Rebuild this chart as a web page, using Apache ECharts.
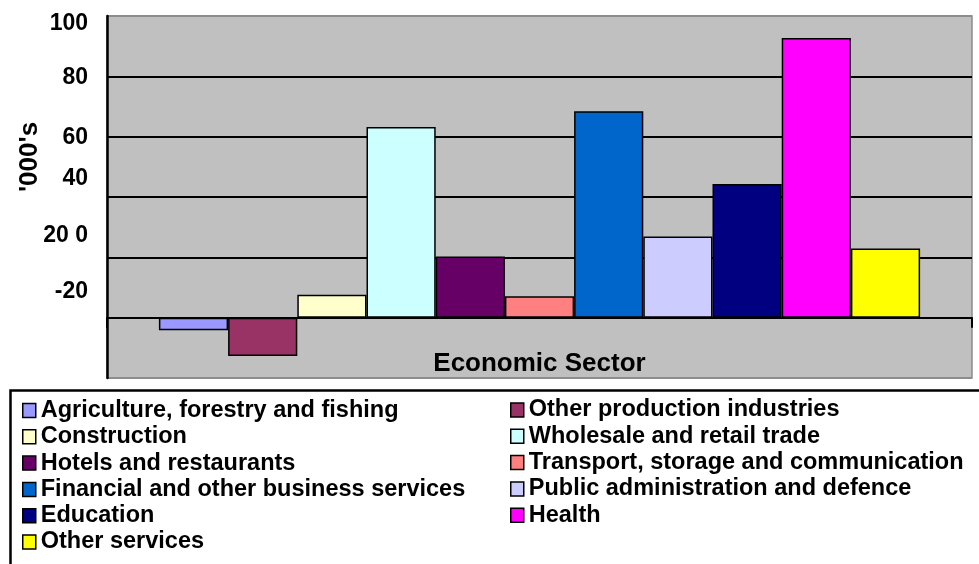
<!DOCTYPE html>
<html>
<head>
<meta charset="utf-8">
<script src="https://cdn.jsdelivr.net/npm/echarts@6/dist/echarts.min.js"></script>
<style>
  html, body { margin: 0; padding: 0; background: #ffffff; }
  #chart { width: 979px; height: 564px; }
</style>
</head>
<body>
<div id="chart"></div>
<script>
// Employment change by economic sector ('000s)
const sectors = [
  'Agriculture, forestry and fishing',
  'Other production industries',
  'Construction',
  'Wholesale and retail trade',
  'Hotels and restaurants',
  'Transport, storage and communication',
  'Financial and other business services',
  'Public administration and defence',
  'Education',
  'Health',
  'Other services'
];
const changeValues = [-4.2, -12.7, 7.6, 63.2, 20.3, 7.1, 68.4, 26.9, 44.3, 92.7, 22.9];
const sectorColors = ['#9999ff', '#993366', '#ffffcc', '#ccffff', '#660066', '#ff8080',
                      '#0066cc', '#ccccff', '#000080', '#ff00ff', '#ffff00'];
// Value-axis ticks and the text printed beside each one
const yTickValues = [-20, 0, 20, 40, 60, 80, 100];
const yTickLabels = ['', '-20', '20 0', '40', '60', '80', '100'];

const FONT = '"Liberation Sans", Arial, Helvetica, sans-serif';

// vertical nudge (px, + = down) for each printed tick label
const labelShift = { '-20': 0, '0': -26, '20': -21.5, '40': -18, '60': 1, '80': 1, '100': 8 };
const rich = {};
yTickValues.forEach((v, i) => {
  const s = labelShift[String(v)] || 0;
  rich['t' + i] = {
    fontFamily: FONT, fontWeight: 'bold', fontSize: 23, color: '#000',
    padding: s >= 0 ? [2 * s, 0, 0, 0] : [0, 0, -2 * s, 0]
  };
});

const series = sectors.map((name, i) => ({
  name: name,
  type: 'bar',
  data: [changeValues[i]],
  barGap: '0%',
  barCategoryGap: '12%',
  itemStyle: { color: sectorColors[i], borderColor: '#000', borderWidth: 1.5 }
}));

const legendText = { fontFamily: FONT, fontWeight: 'bold', fontSize: 23.5, color: '#000', lineHeight: 24 };
const legendCommon = {
  orient: 'vertical',
  padding: 0,
  itemWidth: 13,
  itemHeight: 14,
  itemGap: 2.3,
  icon: 'rect',
  selectedMode: false,
  itemStyle: { borderColor: '#000', borderWidth: 1.5 },
  textStyle: legendText
};

const chart = echarts.init(document.getElementById('chart'), null, { renderer: 'canvas' });
chart.setOption({
  animation: false,
  backgroundColor: '#ffffff',
  grid: {
    left: 107, right: 7, top: 16, bottom: 186,
    outerBoundsMode: 'none',
    containLabel: false,
    show: true, backgroundColor: '#c0c0c0', borderColor: '#8c8c8c', borderWidth: 1.5
  },
  xAxis: {
    type: 'category',
    data: [''],
    name: 'Economic Sector',
    nameLocation: 'middle',
    nameGap: -27,
    nameTextStyle: { fontFamily: FONT, fontWeight: 'bold', fontSize: 26, color: '#000' },
    axisLine: { onZero: true, lineStyle: { color: '#000', width: 2 } },
    axisTick: { show: true, length: 10, lineStyle: { color: '#000', width: 2 } },
    axisLabel: { show: false },
    splitLine: { show: false }
  },
  yAxis: {
    type: 'value',
    min: -20, max: 100, interval: 20,
    name: "'000's",
    nameLocation: 'middle',
    nameRotate: 90,
    nameGap: 64,
    nameMoveOverlap: false,
    nameTextStyle: { fontFamily: FONT, fontWeight: 'bold', fontSize: 26, color: '#000', padding: [0, 0, 0, 80] },
    axisLine: { show: true, lineStyle: { color: '#000', width: 2.5 } },
    axisTick: { show: false },
    axisLabel: {
      margin: 19,
      formatter: v => {
        const i = yTickValues.indexOf(v);
        return i < 0 || !yTickLabels[i] ? '' : '{t' + i + '|' + yTickLabels[i] + '}';
      },
      rich: rich
    },
    splitLine: {
      show: true,
      lineStyle: { color: ['#8c8c8c', '#000', '#000', '#000', '#000', '#000', '#8c8c8c'], width: 2 }
    }
  },
  legend: [
    Object.assign({ left: 22, top: 398.5, data: sectors.filter((_, i) => i % 2 === 0) }, legendCommon),
    Object.assign({ left: 510, top: 398, data: sectors.filter((_, i) => i % 2 === 1) }, legendCommon)
  ],
  graphic: [{
    type: 'rect',
    left: 8, top: 388,
    shape: { width: 1000, height: 200 },
    style: { fill: 'none', stroke: '#000', lineWidth: 2.5 },
    z: -1
  }],
  series: series
});
</script>
</body>
</html>
